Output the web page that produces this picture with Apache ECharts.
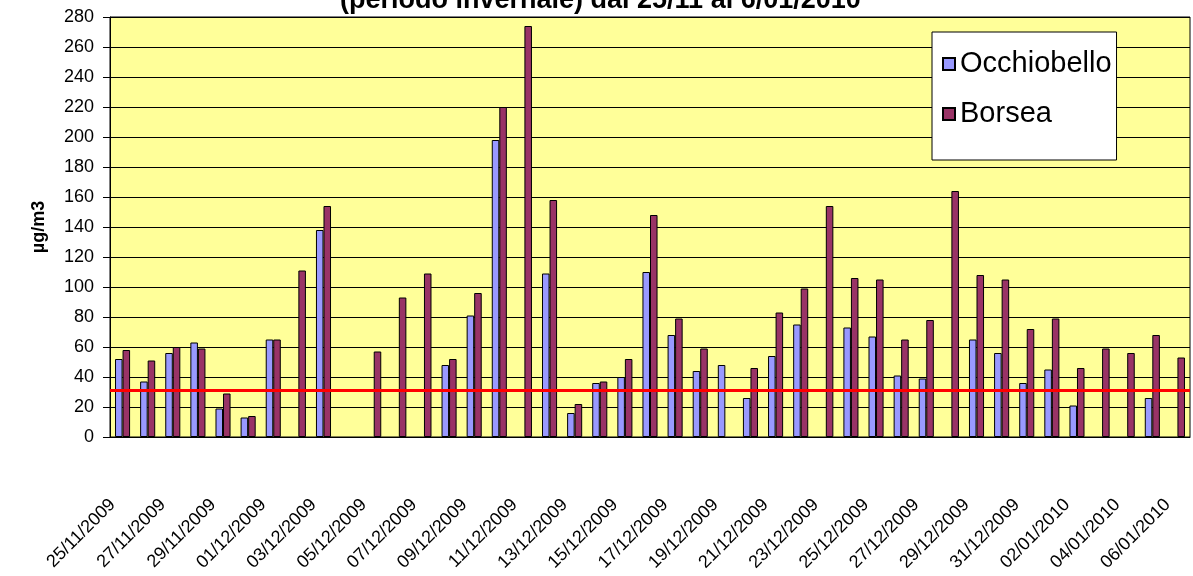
<!DOCTYPE html>
<html>
<head>
<meta charset="utf-8">
<script src="https://cdn.jsdelivr.net/npm/echarts@6/dist/echarts.min.js"></script>
<style>
  html, body { margin: 0; padding: 0; background: #fff; }
  #chart { width: 1193px; height: 576px; }
</style>
</head>
<body>
<div id="chart"></div>
<script>
// giorni dal 25/11/2009 al 06/01/2010
const categories = [
  '25/11/2009', '26/11/2009', '27/11/2009', '28/11/2009', '29/11/2009', '30/11/2009',
  '01/12/2009', '02/12/2009', '03/12/2009', '04/12/2009', '05/12/2009', '06/12/2009',
  '07/12/2009', '08/12/2009', '09/12/2009', '10/12/2009', '11/12/2009', '12/12/2009',
  '13/12/2009', '14/12/2009', '15/12/2009', '16/12/2009', '17/12/2009', '18/12/2009',
  '19/12/2009', '20/12/2009', '21/12/2009', '22/12/2009', '23/12/2009', '24/12/2009',
  '25/12/2009', '26/12/2009', '27/12/2009', '28/12/2009', '29/12/2009', '30/12/2009',
  '31/12/2009', '01/01/2010', '02/01/2010', '03/01/2010', '04/01/2010', '05/01/2010',
  '06/01/2010'
]

const occhiobello = [
  52, 37, 56, 63, 19, 13,
  65, null, 138, null, null, null,
  null, 48, 81, 198, null, 109,
  16, 36, 40, 110, 68, 44,
  48, 26, 54, 75, null, 73,
  67, 41, 39, null, 65, 56,
  36, 45, 21, null, null, 26,
  null
]

const borsea = [
  58, 51, 60, 59, 29, 14,
  65, 111, 154, null, 57, 93,
  109, 52, 96, 220, 274, 158,
  22, 37, 52, 148, 79, 59,
  null, 46, 83, 99, 154, 106,
  105, 65, 78, 164, 108, 105,
  72, 79, 46, 59, 56, 68,
  53
]

// linea rossa di riferimento
const limitValue = 31

const yMin = 0
const yMax = 280
const yStep = 20

const font = '"Liberation Sans", Arial, sans-serif'

const chart = echarts.init(document.getElementById('chart'), null, { renderer: 'canvas' })

const option = {
  animation: false,
  backgroundColor: '#ffffff',
  title: {
    text: '(periodo invernale) dal 25/11 al 6/01/2010',
    left: 340,
    top: -13,
    padding: 0,
    textStyle: {
      fontFamily: font,
      fontSize: 27,
      lineHeight: 27,
      fontWeight: 'bold',
      color: '#000'
    }
  },
  legend: {
    orient: 'vertical',
    left: 932,
    top: 32,
    backgroundColor: '#ffffff',
    borderColor: '#000',
    borderWidth: 1,
    padding: [17, 5, 31, 10],
    itemWidth: 12,
    itemHeight: 12,
    itemGap: 20,
    icon: 'rect',
    textStyle: {
      fontFamily: font,
      fontSize: 29,
      lineHeight: 30,
      color: '#000'
    },
    data: ['Occhiobello', 'Borsea']
  },
  grid: {
    left: 110,
    right: 3,
    top: 17,
    bottom: 139,
    show: true,
    backgroundColor: '#FFFF99',
    borderColor: '#000',
    borderWidth: 1
  },
  xAxis: {
    type: 'category',
    data: categories,
    axisLine: { lineStyle: { color: '#000', width: 1 } },
    axisTick: { interval: 1, length: 6, lineStyle: { color: '#000' } },
    axisLabel: {
      interval: 1,
      rotate: 45,
      margin: 55,
      padding: [0, 14, 0, 0],
      fontFamily: font,
      fontSize: 18,
      color: '#000'
    }
  },
  yAxis: {
    type: 'value',
    min: yMin,
    max: yMax,
    interval: yStep,
    name: 'µg/m3',
    nameLocation: 'middle',
    nameGap: 62,
    nameRotate: 90,
    nameTextStyle: {
      fontFamily: font,
      fontSize: 18,
      fontWeight: 'bold',
      color: '#000'
    },
    axisLine: { show: true, lineStyle: { color: '#000', width: 1 } },
    axisTick: { show: true, length: 7, lineStyle: { color: '#000' } },
    axisLabel: {
      margin: 16,
      fontFamily: font,
      fontSize: 18,
      color: '#000'
    },
    splitLine: { show: true, lineStyle: { color: '#000', width: 1 } }
  },
  series: [
    {
      name: 'Occhiobello',
      type: 'bar',
      data: occhiobello,
      barGap: '0%',
      barCategoryGap: '40%',
      itemStyle: { color: '#9999FF', borderColor: '#000', borderWidth: 1 }
    },
    {
      name: 'Borsea',
      type: 'bar',
      data: borsea,
      barGap: '0%',
      barCategoryGap: '40%',
      itemStyle: { color: '#993366', borderColor: '#000', borderWidth: 1 },
      markLine: {
        silent: true,
        symbol: ['none', 'none'],
        label: { show: false },
        lineStyle: { color: '#FF0000', width: 3, type: 'solid' },
        data: [{ yAxis: limitValue }]
      }
    }
  ]
}

chart.setOption(option)
</script>
</body>
</html>
